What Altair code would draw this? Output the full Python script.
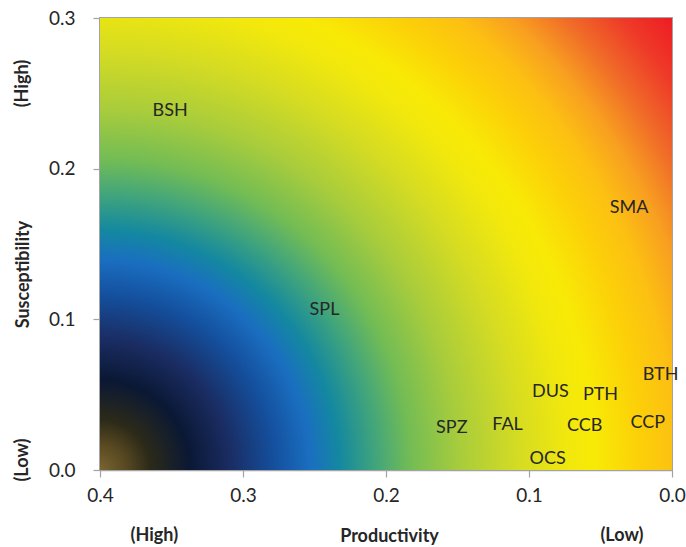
import altair as alt
import pandas as pd

# ---- data ----
SPECIES = ["BSH", "SMA", "SPL", "BTH", "DUS", "PTH", "SPZ", "FAL", "CCB", "CCP", "OCS"]
PRODUCTIVITY = [0.351, 0.030, 0.243, 0.008, 0.085, 0.050, 0.154, 0.115, 0.061, 0.017, 0.087]
SUSCEPTIBILITY = [0.238, 0.174, 0.106, 0.063, 0.052, 0.050, 0.028, 0.030, 0.029, 0.031, 0.007]

X_DOMAIN = [0.0, 0.4]
Y_DOMAIN = [0.0, 0.3]
X_TICKS = [0.0, 0.1, 0.2, 0.3, 0.4]
Y_TICKS = [0.0, 0.1, 0.2, 0.3]

X_ANNOT = ["(High)", "(Low)"]
X_ANNOT_POS = [0.362, 0.035]
Y_ANNOT = ["(High)", "(Low)"]
Y_ANNOT_POS = [0.2565, 0.0066]

# gradient colour stops (distance from bottom-left corner, px ; colour)
GRAD_DIST = [0, 25, 50, 90, 130, 175, 210, 240, 275, 310, 360, 420, 470, 495, 540, 575, 610, 650, 690, 729]
GRAD_COLOR = ["#7a6430", "#5a4a22", "#2c2a18", "#0a1834", "#1a2c62", "#14509e", "#1a6ec0", "#1488a0",
              "#40a47c", "#72bc55", "#a8cc3c", "#d6dc22", "#f2e80c", "#f8ea06", "#fcd008",
              "#fcc012", "#f8a020", "#f06a28", "#ee3a28", "#ee1c24"]

W, H = 572, 452
R_NORM = 1.28  # gradient radius relative to square box side (W)

FONT = "Lato"
GREY = "#a3a3a3"
TXT = "#262626"

stops = [{"offset": d / (R_NORM * W), "color": c} for d, c in zip(GRAD_DIST, GRAD_COLOR)]
gradient = {"gradient": "radial", "x1": 0, "y1": 1, "r1": 0,
            "x2": 0, "y2": 1, "r2": R_NORM, "stops": stops}

xscale = alt.Scale(domain=X_DOMAIN, reverse=True, nice=False, zero=False)
yscale = alt.Scale(domain=Y_DOMAIN, nice=False, zero=False)

# background: square box (in pixels) anchored at bottom-left, clipped to the plot
bg_df = pd.DataFrame({"x": [X_DOMAIN[1]], "x2": [X_DOMAIN[0]],
                      "y": [Y_DOMAIN[0]], "y2": [Y_DOMAIN[1] * W / H]})

xaxis = alt.Axis(values=X_TICKS, format=".1f", grid=False, title="Productivity",
                 labelFlush=False, labelPadding=9, tickSize=7, labelFontSize=19,
                 titleY=66, titleX=289, titleBaseline="middle", titleAlign="center")
yaxis = alt.Axis(values=Y_TICKS, format=".1f", grid=False, title="Susceptibility",
                 labelPadding=18, tickSize=7, labelFontSize=19,
                 titleX=-77, titleY=256, titleAngle=270, titleBaseline="middle",
                 titleAlign="center")

background = alt.Chart(bg_df).mark_rect(clip=True, color=gradient).encode(
    x=alt.X("x:Q", scale=xscale, axis=xaxis),
    x2="x2:Q",
    y=alt.Y("y:Q", scale=yscale, axis=yaxis),
    y2="y2:Q",
)

pts_df = pd.DataFrame({"species": SPECIES, "productivity": PRODUCTIVITY,
                       "susceptibility": SUSCEPTIBILITY})
labels = alt.Chart(pts_df).mark_text(font=FONT, fontSize=18, color=TXT,
                                     align="center", baseline="middle").encode(
    x=alt.X("productivity:Q", scale=xscale),
    y=alt.Y("susceptibility:Q", scale=yscale),
    text="species:N",
)

xa_df = pd.DataFrame({"t": X_ANNOT, "x": X_ANNOT_POS})
x_annot = alt.Chart(xa_df).mark_text(font=FONT, fontSize=18, fontWeight="bold", color=TXT,
                                     align="center", baseline="middle").encode(
    x=alt.X("x:Q", scale=xscale),
    y=alt.value(H + 66),
    text="t:N",
)

ya_df = pd.DataFrame({"t": Y_ANNOT, "y": Y_ANNOT_POS})
y_annot = alt.Chart(ya_df).mark_text(font=FONT, fontSize=18, fontWeight="bold", color=TXT,
                                     align="center", baseline="middle", angle=270).encode(
    x=alt.value(-77),
    y=alt.Y("y:Q", scale=yscale),
    text="t:N",
)

chart = alt.layer(background, labels, x_annot, y_annot).properties(
    width=W, height=H,
    autosize=alt.AutoSizeParams(type="none"),
    padding={"left": 100, "top": 18, "right": 14, "bottom": 77},
    background="white",
).configure_view(
    stroke=GREY, strokeWidth=2,
).configure_axis(
    domainColor=GREY, domainWidth=1.5, tickColor=GREY, tickWidth=1.2,
    labelFont=FONT, labelColor=TXT, titleFont=FONT, titleFontSize=18,
    titleFontWeight="bold", titleColor=TXT, zindex=1,
)

chart.save("out.html", embed_options={"renderer": "svg", "actions": False})
